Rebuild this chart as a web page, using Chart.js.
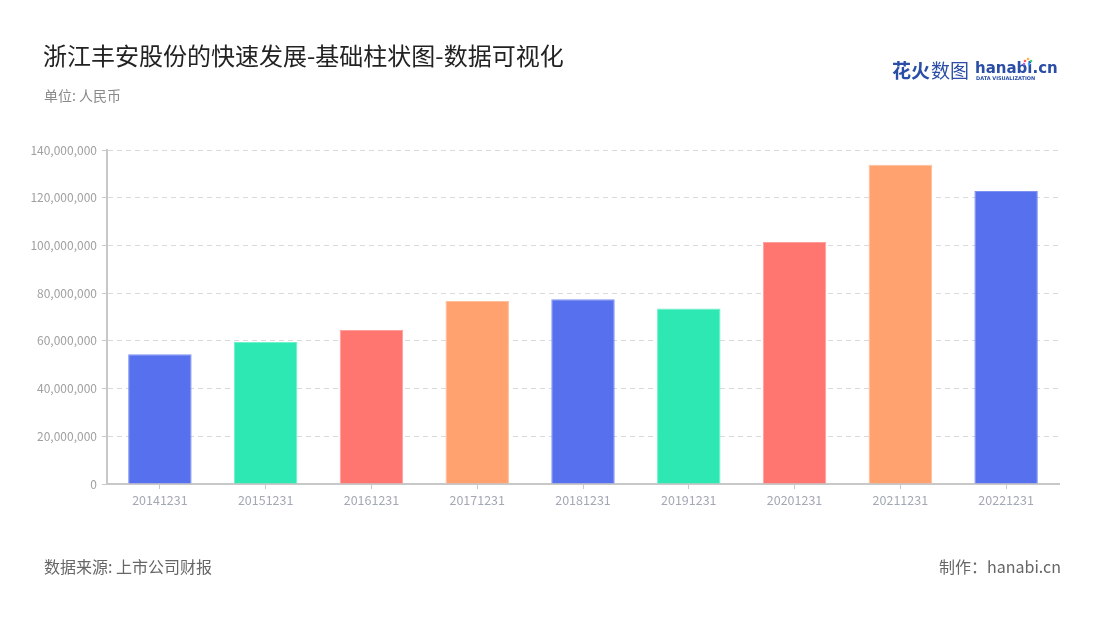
<!DOCTYPE html>
<html>
<head>
<meta charset="utf-8">
<script src="https://cdn.jsdelivr.net/npm/chart.js@4.4.0/dist/chart.umd.min.js"></script>
<style>
  html, body { margin: 0; padding: 0; background: #fff; }
  #wrap { position: relative; width: 1100px; height: 620px; }
  canvas { display: block; }
</style>
</head>
<body>
<div id="wrap"><canvas id="c" width="1100" height="620"></canvas></div>
<script>
const categories = ['20141231','20151231','20161231','20171231','20181231','20191231','20201231','20211231','20221231'];
const values = [54400000, 59500000, 64500000, 76700000, 77400000, 73600000, 101400000, 133800000, 122800000];
const yTicks = [0, 20000000, 40000000, 60000000, 80000000, 100000000, 120000000, 140000000];
const barColors = ['#5770ee','#2de8b2','#ff7570','#ffa26f','#5770ee','#2de8b2','#ff7570','#ffa26f','#5770ee'];
const barBorders = ['#7e91f2','#70f0cb','#ff9e9a','#ffbf9a','#7e91f2','#70f0cb','#ff9e9a','#ffbf9a','#7e91f2'];

const titleText = '浙江丰安股份的快速发展-基础柱状图-数据可视化';
const subtitleText = '单位: 人民币';
const sourceText = '数据来源: 上市公司财报';
const makerText = '制作：hanabi.cn';

const FONT = '"Noto Sans CJK SC", "Noto Sans", sans-serif';

const decor = {
  id: 'decor',
  beforeDraw(chart) {
    const ctx = chart.ctx;
    ctx.save();
    ctx.fillStyle = '#fff';
    ctx.fillRect(0, 0, chart.width, chart.height);
    ctx.restore();
  },
  afterDraw(chart) {
    const ctx = chart.ctx;
    ctx.save();
    ctx.textBaseline = 'middle';
    ctx.textAlign = 'left';
    ctx.fillStyle = '#222';
    ctx.font = '24px ' + FONT;
    ctx.fillText(titleText, 43, 56);
    ctx.fillStyle = '#8a8a8a';
    ctx.font = '14px ' + FONT;
    ctx.fillText(subtitleText, 44, 96);
    ctx.fillStyle = '#666';
    ctx.font = '16px ' + FONT;
    ctx.fillText(sourceText, 44, 567);
    ctx.textAlign = 'right';
    ctx.fillText(makerText, 1061, 567);

    // logo
    ctx.textAlign = 'left';
    ctx.fillStyle = '#2a4ea6';
    ctx.font = 'bold 19px ' + FONT;
    ctx.fillText('花火', 892, 71);
    ctx.font = '19px ' + FONT;
    ctx.fillText('数图', 931, 71);
    ctx.font = 'bold 15px "DejaVu Sans", sans-serif';
    ctx.fillText('hanabi.cn', 975, 69);
    ctx.font = 'bold 5px "DejaVu Sans", sans-serif';
    ctx.fillText('DATA VISUALIZATION', 976, 79);
    const dots = [['#ff5a5a',1025,61],['#ffb340',1028,59],['#3fd08a',1031,61],['#36a6ff',1029,64],['#a66bff',1024,64]];
    dots.forEach(d => { ctx.fillStyle = d[0]; ctx.beginPath(); ctx.arc(d[1], d[2], 1.3, 0, Math.PI*2); ctx.fill(); });
    ctx.restore();
  }
};

new Chart(document.getElementById('c'), {
  type: 'bar',
  data: {
    labels: categories,
    datasets: [{
      data: values,
      backgroundColor: barColors,
      borderColor: barBorders,
      borderWidth: 1,
      barPercentage: 0.6,
      categoryPercentage: 1.0
    }]
  },
  options: {
    responsive: false,
    animation: false,
    devicePixelRatio: 1,
    layout: { padding: { top: 150, right: 41, left: 0, bottom: 0 } },
    plugins: { legend: { display: false }, tooltip: { enabled: false }, title: { display: false } },
    scales: {
      x: {
        afterFit(scale) { scale.height = 136; },
        grid: { display: true, drawOnChartArea: false, drawTicks: true, tickLength: 5, tickColor: '#c8c8c8', tickWidth: 1, offset: false },
        border: { display: true, color: '#c8c8c8', width: 2 },
        ticks: { color: '#a4a8b4', font: { family: FONT, size: 12.5 }, padding: 4, maxRotation: 0 }
      },
      y: {
        min: 0, max: 140000000,
        afterFit(scale) { scale.width = 107; },
        afterBuildTicks(scale) { scale.ticks = yTicks.map(v => ({ value: v })); },
        grid: { color: '#dadada', lineWidth: 1, drawTicks: true, tickLength: 5, tickColor: '#c8c8c8', tickWidth: 1, tickBorderDash: [] },
        border: { display: true, color: '#c8c8c8', width: 2, dash: [5, 4] },
        ticks: { color: '#a0a0a0', font: { family: FONT, size: 12 }, padding: 5,
          callback: v => Number(v).toLocaleString('en-US') }
      }
    }
  },
  plugins: [decor]
});
</script>
</body>
</html>
